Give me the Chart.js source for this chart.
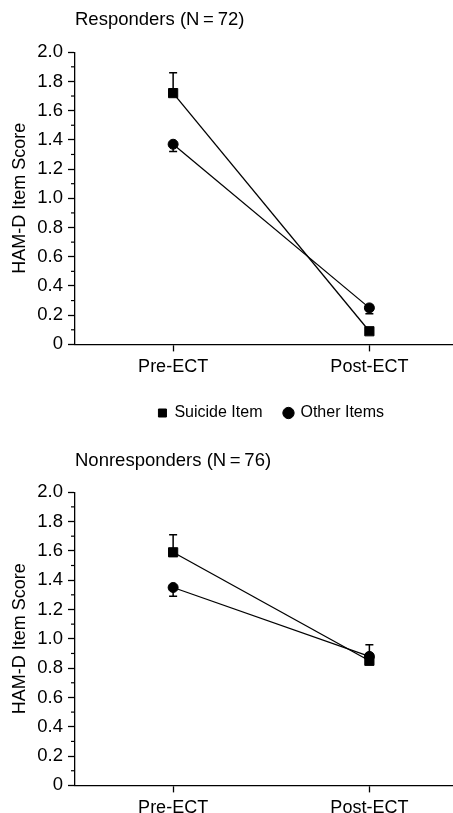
<!DOCTYPE html>
<html>
<head>
<meta charset="utf-8">
<title>HAM-D Item Score before and after ECT</title>
<script src="https://cdn.jsdelivr.net/npm/chart.js@4.4.1/dist/chart.umd.min.js"></script>
<style>
  html, body { margin: 0; padding: 0; background: #fff; overflow: hidden; }
  #page { position: relative; width: 453px; height: 813px; overflow: hidden; background: #fff; }
  #page canvas { position: absolute; left: 0; }
  #chartResp { top: 0; }
  #chartNonresp { top: 420px; }
</style>
</head>
<body>
<div id="page">
  <canvas id="chartResp" width="475" height="431"></canvas>
  <canvas id="chartNonresp" width="475" height="404"></canvas>
</div>
<script>
const phases = ['Pre-ECT', 'Post-ECT'];
const seriesNames = ['Suicide Item', 'Other Items'];
const yTickLabels = ['0', '0.2', '0.4', '0.6', '0.8', '1.0', '1.2', '1.4', '1.6', '1.8', '2.0'];
const yMinorTicks = [0.1, 0.3, 0.5, 0.7, 0.9, 1.1, 1.3, 1.5, 1.7, 1.9];

// Responders (N = 72)
const respSuicide = [1.72, 0.09];
const respSuicideErr = [1.86, 0.11];
const respOther = [1.37, 0.25];
const respOtherErr = [1.32, 0.21];

// Nonresponders (N = 76)
const nonSuicide = [1.59, 0.85];
const nonSuicideErr = [1.71, 0.96];
const nonOther = [1.35, 0.88];
const nonOtherErr = [1.29, 0.84];

Chart.defaults.font.family = '"Liberation Sans", Arial, sans-serif';
Chart.defaults.color = '#000';

// error bar from the mean to the value in errorTo, with a small cap
const errorBarPlugin = {
    id: 'errorBars',
    afterDatasetsDraw(chart) {
        const ctx = chart.ctx;
        const y = chart.scales.y;
        ctx.save();
        ctx.strokeStyle = '#000';
        ctx.lineWidth = 1.5;
        chart.data.datasets.forEach((ds, i) => {
            const points = chart.getDatasetMeta(i).data;
            ds.errorTo.forEach((v, j) => {
                const px = points[j].x;
                const py = points[j].y;
                const pe = y.getPixelForValue(v);
                ctx.beginPath();
                ctx.moveTo(px, py);
                ctx.lineTo(px, pe);
                ctx.moveTo(px - 4, pe);
                ctx.lineTo(px + 4, pe);
                ctx.stroke();
            });
        });
        ctx.restore();
    }
};

// short unlabeled ticks between the labeled ones
const minorTickPlugin = {
    id: 'minorTicks',
    afterDraw(chart) {
        const ctx = chart.ctx;
        const y = chart.scales.y;
        ctx.save();
        ctx.strokeStyle = '#000';
        ctx.lineWidth = 1.2;
        yMinorTicks.forEach(v => {
            const py = y.getPixelForValue(v);
            ctx.beginPath();
            ctx.moveTo(y.right - 4, py);
            ctx.lineTo(y.right, py);
            ctx.stroke();
        });
        ctx.restore();
    }
};

function makeDatasets(suicide, suicideErr, other, otherErr) {
    return [{
        label: seriesNames[0],
        data: suicide,
        errorTo: suicideErr,
        borderColor: '#000',
        backgroundColor: '#000',
        borderWidth: 1.3,
        pointStyle: 'rect',
        pointRadius: 6.5,
        pointBorderWidth: 1,
        pointBackgroundColor: '#000',
        pointBorderColor: '#000'
    }, {
        label: seriesNames[1],
        data: other,
        errorTo: otherErr,
        borderColor: '#000',
        backgroundColor: '#000',
        borderWidth: 1.3,
        pointStyle: 'circle',
        pointRadius: 5,
        pointBorderWidth: 1,
        pointBackgroundColor: '#000',
        pointBorderColor: '#000'
    }];
}

function makeChart(id, titleText, titlePadding, datasets, showLegend) {
    const ctx = document.getElementById(id).getContext('2d');
    return new Chart(ctx, {
        type: 'line',
        data: {
            labels: phases,
            datasets: datasets
        },
        plugins: [errorBarPlugin, minorTickPlugin],
        options: {
            responsive: false,
            animation: false,
            layout: { padding: 0 },
            plugins: {
                title: {
                    display: true,
                    text: titleText,
                    align: 'start',
                    fullSize: false,
                    color: '#000',
                    font: { size: 18.5, weight: 'normal' },
                    padding: titlePadding
                },
                legend: {
                    display: showLegend,
                    position: 'bottom',
                    fullSize: false,
                    labels: {
                        usePointStyle: true,
                        boxWidth: 8,
                        boxHeight: 8,
                        padding: 22,
                        color: '#000',
                        font: { size: 16 }
                    }
                },
                tooltip: { enabled: false }
            },
            scales: {
                x: {
                    type: 'category',
                    offset: true,
                    grid: { drawOnChartArea: false, tickLength: 7, color: '#000', tickWidth: 1.3 },
                    border: { color: '#000', width: 1.3 },
                    ticks: { color: '#000', font: { size: 18 }, padding: 5, maxRotation: 0 }
                },
                y: {
                    min: 0,
                    max: 2,
                    afterFit: s => { s.width = 75; },
                    grid: { drawOnChartArea: false, tickLength: 7, color: '#000', tickWidth: 1.3 },
                    border: { color: '#000', width: 1.3 },
                    ticks: {
                        stepSize: 0.2,
                        color: '#000',
                        font: { size: 18.5 },
                        padding: 5,
                        callback: (value, index) => yTickLabels[index]
                    },
                    title: {
                        display: true,
                        text: 'HAM-D Item Score',
                        color: '#000',
                        font: { size: 18 },
                        padding: { top: 9, bottom: 0 }
                    }
                }
            }
        }
    });
}

makeChart('chartResp', 'Responders (N\u2009=\u200972)', { top: 9, bottom: 21 },
    makeDatasets(respSuicide, respSuicideErr, respOther, respOtherErr), true);
makeChart('chartNonresp', 'Nonresponders (N\u2009=\u200976)', { top: 30, bottom: 20 },
    makeDatasets(nonSuicide, nonSuicideErr, nonOther, nonOtherErr), false);
</script>
</body>
</html>
